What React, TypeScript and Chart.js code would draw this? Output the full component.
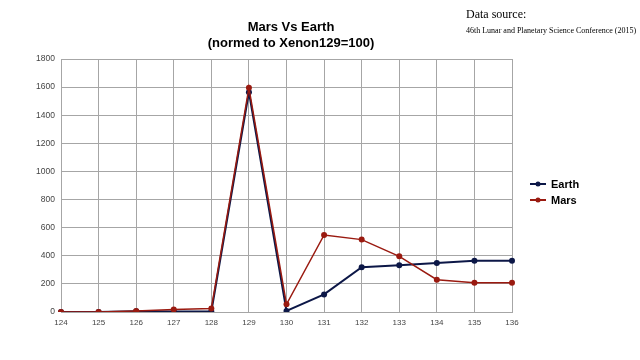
import React, { useEffect, useRef } from "react";
import { Chart, registerables } from "chart.js";

Chart.register(...registerables);

const massNumbers = ["124", "125", "126", "127", "128", "129", "130", "131", "132", "133", "134", "135", "136"];
const earthValues = [0, 0, 5, 3, 3, 1564, 8, 125, 318, 332, 348, 365, 365];
const marsValues = [0, 0, 8, 18, 25, 1595, 55, 548, 515, 396, 230, 208, 208];
const seriesNames = ["Earth", "Mars"];
const seriesColors = ["#0c1747", "#9a1a10"];
const titleLines = ["Mars Vs Earth", "(normed to Xenon129=100)"];
const sourceLines = ["Data source:", "46th Lunar and Planetary Science Conference (2015)"];

const textPlugin = {
  id: "textPlugin",
  afterDraw(chart: any) {
    const ctx = chart.ctx as CanvasRenderingContext2D;
    ctx.save();
    // title
    ctx.fillStyle = "#000";
    ctx.textAlign = "center";
    ctx.textBaseline = "middle";
    ctx.font = "bold 13px 'Liberation Sans', Arial, sans-serif";
    const cx = 291;
    ctx.fillText(titleLines[0], cx, 27);
    ctx.fillText(titleLines[1], cx, 43);
    // source
    ctx.textAlign = "left";
    ctx.font = "12px 'Liberation Serif', serif";
    ctx.fillText(sourceLines[0], 466, 15);
    ctx.font = "8px 'Liberation Serif', serif";
    ctx.fillText(sourceLines[1], 466, 31);
    // legend
    const lx = 530;
    const ly = [184, 200];
    for (let i = 0; i < seriesNames.length; i++) {
      ctx.strokeStyle = seriesColors[i];
      ctx.fillStyle = seriesColors[i];
      ctx.lineWidth = 2;
      ctx.beginPath();
      ctx.moveTo(lx, ly[i]);
      ctx.lineTo(lx + 16, ly[i]);
      ctx.stroke();
      ctx.beginPath();
      ctx.arc(lx + 8, ly[i], 2.5, 0, Math.PI * 2);
      ctx.fill();
      ctx.fillStyle = "#000";
      ctx.font = "bold 11px 'Liberation Sans', Arial, sans-serif";
      ctx.fillText(seriesNames[i], lx + 21, ly[i] + 0.5);
    }
    ctx.restore();
  },
};

export default function App() {
  const ref = useRef<HTMLCanvasElement>(null);
  useEffect(() => {
    if (!ref.current) return;
    const chart = new Chart(ref.current, {
      type: "line",
      data: {
        labels: massNumbers,
        datasets: [
          {
            label: seriesNames[0],
            data: earthValues,
            borderColor: seriesColors[0],
            backgroundColor: seriesColors[0],
            borderWidth: 2,
            pointRadius: 3,
            pointBorderWidth: 0,
            tension: 0,
            order: 1,
          },
          {
            label: seriesNames[1],
            data: marsValues,
            borderColor: seriesColors[1],
            backgroundColor: seriesColors[1],
            borderWidth: 1.5,
            pointRadius: 3,
            pointBorderWidth: 0,
            tension: 0,
            order: 0,
          },
        ],
      },
      options: {
        animation: false,
        responsive: false,
        maintainAspectRatio: false,
        layout: { padding: { top: 59, right: 128, bottom: 0, left: 0 } },
        plugins: {
          legend: { display: false },
          title: { display: false },
          tooltip: { enabled: false },
        },
        scales: {
          x: {
            offset: false,
            grid: { color: "#a6a6a6", lineWidth: 1, drawTicks: false },
            border: { color: "#a6a6a6" },
            ticks: {
              color: "#444",
              font: { family: "'Liberation Sans', Arial, sans-serif", size: 8 },
              padding: 6,
              maxRotation: 0,
              autoSkip: false,
            },
            afterFit(scale: any) {
              scale.height = 48;
            },
          },
          y: {
            min: 0,
            max: 1800,
            grid: { color: "#a6a6a6", lineWidth: 1, drawTicks: false },
            border: { color: "#a6a6a6" },
            ticks: {
              stepSize: 200,
              color: "#444",
              font: { family: "'Liberation Sans', Arial, sans-serif", size: 8.5 },
              padding: 6,
              callback: (v: any) => String(v),
            },
            afterFit(scale: any) {
              scale.width = 61;
            },
          },
        },
      },
      plugins: [textPlugin],
    });
    return () => chart.destroy();
  }, []);
  return (
    <div style={{ position: "fixed", left: 0, top: 0, width: 640, height: 360, background: "#fff" }}>
      <canvas ref={ref} width={640} height={360} style={{ width: 640, height: 360 }} />
    </div>
  );
}
